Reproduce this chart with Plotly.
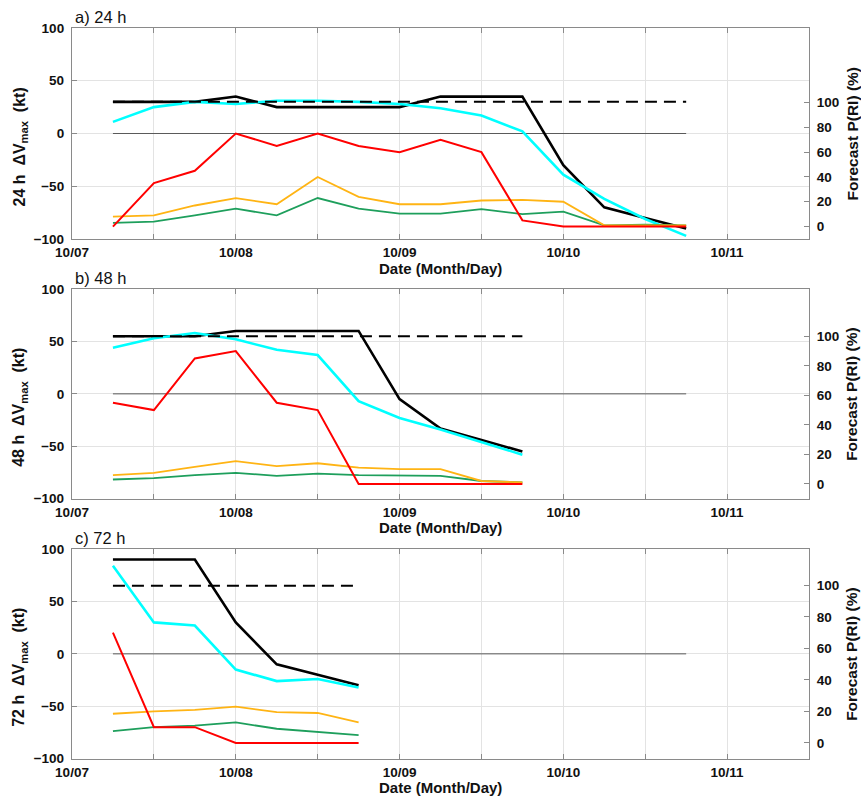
import plotly.graph_objects as go

# ---------------- data ----------------
# x = hours since 10/07 00 UTC
HOURS_24 = [6, 12, 18, 24, 30, 36, 42, 48, 54, 60, 66, 72, 78, 84, 90]
HOURS_48 = [6, 12, 18, 24, 30, 36, 42, 48, 54, 60, 66]
HOURS_72 = [6, 12, 18, 24, 30, 36, 42]

# observed dVmax (kt), black
obs24 = [30, 30, 30, 35, 25, 25, 25, 25, 35, 35, 35, -30, -70, -80, -90]
obs48 = [55, 55, 55, 60, 60, 60, 60, -5, -33, -44, -55]
obs72 = [90, 90, 90, 30, -10, -20, -30]

# forecast dVmax (kt), cyan
fc24 = [11, 25, 30, 28, 31, 31, 30, 28, 24, 17, 2, -39, -62, -81, -97]
fc48 = [44, 53, 58, 52, 42, 37, -7, -23, -34, -46, -58]
fc72 = [84, 30, 27, -15, -26, -24, -32]

# RI thresholds (kt), dashed
thr24, thr48, thr72 = 30, 55, 65

# forecast P(RI) (%) on right axis
red24 = [0, 35, 45, 75, 65, 75, 65, 60, 70, 60, 5, 0, 0, 0, 0]
orange24 = [8, 9, 17, 23, 18, 40, 24, 18, 18, 21, 21.5, 20, 1, 1, 1]
green24 = [3, 4, 9, 14.5, 9, 23, 14.5, 10.5, 10.5, 14, 10, 12, 1, 1.5, 1]

red48 = [55, 50, 85, 90, 55, 50, 0, 0, 0, 0, 0]
orange48 = [6, 7.5, 11.5, 15.5, 12, 14, 11, 10, 10, 2, 1]
green48 = [3, 4, 6, 7.5, 5.5, 7, 6, 5.5, 5.5, 2, 1]

red72 = [70, 10, 10, 0, 0, 0, 0]
orange72 = [18.5, 20, 21, 23, 19.5, 19, 13]
green72 = [7.5, 10, 11, 13, 9, 7, 5]

ZERO_SPAN = [6, 90]

X_TICKS = [0, 12, 24, 36, 48, 60, 72, 84, 96, 108]
X_LABELS = ["10/07", "", "10/08", "", "10/09", "", "10/10", "", "10/11", ""]
LEFT_TICKS = [-100, -50, 0, 50, 100]
RIGHT_TICKS = [0, 20, 40, 60, 80, 100]

panels = [
    dict(tag="a) 24 h", lead="24", hours=HOURS_24, obs=obs24, fc=fc24, thr=thr24,
         red=red24, orange=orange24, green=green24, rrange=[-10, 160]),
    dict(tag="b) 48 h", lead="48", hours=HOURS_48, obs=obs48, fc=fc48, thr=thr48,
         red=red48, orange=orange48, green=green48, rrange=[-10, 132]),
    dict(tag="c) 72 h", lead="72", hours=HOURS_72, obs=obs72, fc=fc72, thr=thr72,
         red=red72, orange=orange72, green=green72, rrange=[-10, 123]),
]

# ---------------- layout geometry ----------------
W, H = 861, 800
ML, MR, MT, MB = 72, 52, 28, 41
PH = H - MT - MB
PW = W - ML - MR
panel_px = [(28, 239), (289, 498.7), (549, 758.7)]


def ypap(px):
    return (H - MB - px) / PH


def xpap(px):
    return (px - ML) / PW


FONT = "Arial, Liberation Sans, Helvetica, sans-serif"
ORANGE = "#FFB414"
GREEN = "#1E9F5C"
FRAME = "#8a8a8a"
GRID = "#e3e3e3"

fig = go.Figure()
layout = dict(
    width=W, height=H, margin=dict(l=ML, r=MR, t=MT, b=MB),
    paper_bgcolor="white", plot_bgcolor="white", showlegend=False,
    font=dict(family=FONT, color="#111111"),
)
annotations = []

for i, p in enumerate(panels):
    xn = "x" if i == 0 else f"x{i + 1}"
    yl = 2 * i + 1
    yr = 2 * i + 2
    yln = "y" if yl == 1 else f"y{yl}"
    yrn = f"y{yr}"
    top, bot = panel_px[i]
    dom = [ypap(bot), ypap(top)]

    # zero reference line
    fig.add_trace(go.Scatter(x=ZERO_SPAN, y=[0, 0], mode="lines", xaxis=xn, yaxis=yln,
                             line=dict(color="#5a5a5a", width=1), hoverinfo="skip"))
    fig.add_trace(go.Scatter(x=p["hours"], y=p["obs"], mode="lines", xaxis=xn, yaxis=yln,
                             line=dict(color="black", width=2.6)))
    fig.add_trace(go.Scatter(x=p["hours"], y=p["fc"], mode="lines", xaxis=xn, yaxis=yln,
                             line=dict(color="#00FFFF", width=2.6)))
    fig.add_trace(go.Scatter(x=[p["hours"][0], p["hours"][-1]], y=[p["thr"], p["thr"]],
                             mode="lines", xaxis=xn, yaxis=yln,
                             line=dict(color="black", width=2, dash="12px,7px")))
    fig.add_trace(go.Scatter(x=p["hours"], y=p["green"], mode="lines", xaxis=xn, yaxis=yrn,
                             line=dict(color=GREEN, width=1.8)))
    fig.add_trace(go.Scatter(x=p["hours"], y=p["orange"], mode="lines", xaxis=xn, yaxis=yrn,
                             line=dict(color=ORANGE, width=1.8)))
    fig.add_trace(go.Scatter(x=p["hours"], y=p["red"], mode="lines", xaxis=xn, yaxis=yrn,
                             line=dict(color="#FF0000", width=2)))

    xkey = "xaxis" if i == 0 else f"xaxis{i + 1}"
    layout[xkey] = dict(
        domain=[0, 1], anchor=yln, range=[0, 108],
        tickmode="array", tickvals=X_TICKS, ticktext=X_LABELS,
        ticks="inside", ticklen=5, tickcolor=FRAME, tickwidth=1,
        showline=True, linecolor=FRAME, linewidth=1.3, mirror="ticks",
        showgrid=True, gridcolor=GRID, gridwidth=1, zeroline=False,
        tickfont=dict(size=13.5, weight="bold", color="#111111"),
        ticklabelstandoff=1,
    )
    layout["yaxis" if yl == 1 else f"yaxis{yl}"] = dict(
        domain=dom, anchor=xn, range=[-100, 100],
        tickmode="array", tickvals=LEFT_TICKS,
        ticks="inside", ticklen=5, tickcolor=FRAME,
        showline=True, linecolor=FRAME, linewidth=1.3,
        showgrid=True, gridcolor=GRID, gridwidth=1, zeroline=False,
        tickfont=dict(size=13.5, weight="bold", color="#111111"),
        ticklabelstandoff=4,
    )
    layout[f"yaxis{yr}"] = dict(
        domain=dom, anchor=xn, overlaying=yln, side="right", range=p["rrange"],
        tickmode="array", tickvals=RIGHT_TICKS,
        ticks="inside", ticklen=5, tickcolor=FRAME,
        showline=True, linecolor=FRAME, linewidth=1.3,
        showgrid=False, zeroline=False,
        tickfont=dict(size=13.5, weight="bold", color="#111111"),
        ticklabelstandoff=4,
    )

    # panel tag
    annotations.append(dict(text=p["tag"], x=0, y=ypap(top), xref="paper", yref="paper",
                            xanchor="left", yanchor="bottom", showarrow=False,
                            font=dict(size=16.5, color="#111111"), xshift=1))
    # x title
    annotations.append(dict(text="<b>Date (Month/Day)</b>", x=0.5, y=ypap(bot + 29),
                            xref="paper", yref="paper", xanchor="center", yanchor="middle",
                            showarrow=False, font=dict(size=15, color="#111111")))
    # left title
    nb = "\u00a0"
    ltxt = f"<b>{p['lead']}{nb}h{nb}{nb}ΔV<sub>max</sub>{nb}{nb}(kt)</b>"
    annotations.append(dict(text=ltxt, x=xpap(20), y=ypap((top + bot) / 2 + 14),
                            xref="paper", yref="paper", xanchor="center", yanchor="middle",
                            textangle=-90, showarrow=False,
                            font=dict(size=16, color="#111111")))
    # right title
    annotations.append(dict(text="<b>Forecast P(RI) (%)</b>", x=xpap(852),
                            y=ypap((top + bot) / 2), xref="paper", yref="paper",
                            xanchor="center", yanchor="middle", textangle=-90,
                            showarrow=False, font=dict(size=15.5, color="#111111")))

layout["annotations"] = annotations
fig.update_layout(**layout)
fig.write_html("out.html")
